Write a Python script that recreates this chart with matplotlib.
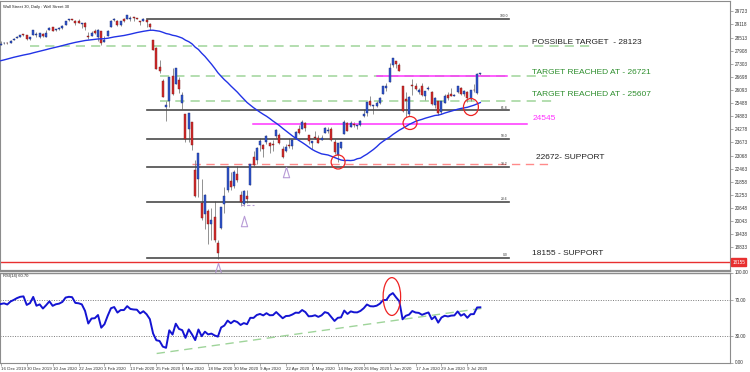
import numpy as np
import matplotlib
matplotlib.use("Agg")
import matplotlib.pyplot as plt
from matplotlib.patches import Ellipse
from matplotlib.path import Path
from matplotlib.transforms import blended_transform_factory

plt.rcParams['font.family'] = ['Liberation Sans', 'DejaVu Sans']

# ---------------- data ----------------
title = "Wall Street 30, Daily : Wall Street 30"
rsi_title = "RSI(14) 60.70"
date_labels = ["16 Dec 2019", "30 Dec 2019", "10 Jan 2020", "22 Jan 2020", "3 Feb 2020",
               "13 Feb 2020", "25 Feb 2020", "6 Mar 2020", "18 Mar 2020", "30 Mar 2020",
               "9 Apr 2020", "22 Apr 2020", "4 May 2020", "14 May 2020", "26 May 2020",
               "5 Jun 2020", "17 Jun 2020", "29 Jun 2020", "9 Jul 2020"]
date_label_step = 8

price_ticks = [18833, 19438, 20043, 20648, 21253, 21858, 22463, 23068, 23673, 24278,
               24883, 25488, 26093, 26698, 27303, 27908, 28513, 29118, 29723]
rsi_ticks = [0, 30, 70, 100]

# closes before the first visible bar (used for the 50-bar average and RSI warm-up)
warmup_close = [26478, 26164, 26346, 26497, 26817, 26787, 27024, 26999, 27026, 26770,
                26828, 26788, 26834, 26806, 26958, 27091, 27071, 27186, 27046,
                27347, 27462, 27492, 27493, 27675, 27681, 27691, 27691, 27784, 27782,
                28005, 28036, 27934, 27821, 27766, 27876, 28066, 28122, 28164, 28051,
                27784, 27503, 27650, 27678, 28015, 27909, 27882, 27911, 28133, 28135]

opens = [28191, 28240, 28270, 28250, 28400, 28490, 28540, 28650, 28640, 28440,
         28640, 28630, 28550, 28690, 28560, 28850, 29000, 28850, 28900, 28940,
         29100, 29320, 29350, 29300, 29260, 29140, 29180, 28600, 28600, 28800,
         28550, 28810, 28320, 28600, 29000, 29320, 29300, 29080, 29370, 29360,
         29380, 29440, 29400, 29280, 29300, 29340, 29150, 28400, 28050, 27150,
         26500, 25300, 25600, 26760, 26380, 26550, 25500, 24990, 24300, 24600,
         22400, 21970, 20900, 20350, 20500, 19900, 20250, 19030, 19730, 20850,
         21470, 21900, 21680, 22200, 21230, 20820, 21200, 21700, 23000, 22840,
         23560, 23560, 23700, 23630, 23600, 23950, 24000, 23360, 23300, 23520,
         23530, 23900, 24300, 24300, 24550, 24000, 23640, 23900, 23900, 23800,
         24100, 24200, 24300, 23700, 23100, 23400, 24050, 24550, 24400, 24540,
         24450, 24500, 24870, 25050, 25600, 25350, 25350, 25500, 25900, 26200,
         26450, 27230, 27450, 27250, 26280, 25660, 25000, 26300, 26300, 26000,
         26300, 25800, 26150, 26000, 25400, 25600, 25100, 25500, 25880, 25930,
         25830, 26000, 26200, 25930, 26000, 25700, 26100, 25950, 26850]
highs = [28337, 28290, 28300, 28380, 28490, 28580, 28625, 28700, 28650, 28550,
         28880, 28750, 28710, 28720, 28860, 28990, 29010, 28910, 29010, 29100,
         29300, 29370, 29370, 29320, 29370, 29200, 29230, 28750, 28800, 28900,
         28890, 28830, 28600, 28850, 29320, 29410, 29310, 29280, 29420, 29570,
         29500, 29440, 29420, 29300, 29410, 29370, 29180, 28410, 28100, 27500,
         26600, 25600, 26710, 27100, 27100, 26700, 26000, 24990, 25020, 24600,
         22840, 23190, 22000, 21300, 20600, 20650, 20950, 19150, 20710, 21600,
         22600, 22300, 22380, 22600, 21450, 21470, 21460, 22700, 23300, 23450,
         23860, 23600, 24000, 23690, 23800, 24270, 24100, 23500, 23600, 23880,
         23790, 24200, 24500, 24700, 24600, 24000, 23760, 24200, 24000, 24000,
         24400, 24400, 24400, 23850, 23630, 23700, 24700, 24600, 24650, 24600,
         24500, 24700, 25200, 25550, 25800, 25400, 25600, 25750, 26300, 26400,
         27340, 27580, 27450, 27350, 26280, 26000, 25800, 26610, 26400, 26190,
         26400, 26050, 26300, 26050, 25760, 25600, 25600, 25900, 26000, 26200,
         25900, 26300, 26250, 26100, 26030, 26100, 26380, 26900, 26900]
lows = [28191, 28220, 28220, 28240, 28400, 28480, 28530, 28590, 28420, 28400,
        28620, 28530, 28480, 28560, 28550, 28840, 28800, 28820, 28880, 28920,
        29100, 29280, 29320, 29100, 29180, 28950, 28860, 28440, 28580, 28700,
        28360, 28170, 28300, 28580, 29000, 29270, 29050, 29050, 29220, 29360,
        29300, 29290, 29370, 29090, 29300, 29000, 28860, 27920, 27050, 26900,
        25750, 24681, 25300, 25850, 26380, 25950, 25220, 23700, 23690, 23330,
        21150, 21150, 20100, 19700, 19000, 19150, 19100, 18300, 19700, 20400,
        21400, 21500, 21590, 21870, 20740, 20740, 20860, 21700, 22600, 22700,
        23280, 23000, 23600, 23190, 23300, 23900, 23600, 22940, 23250, 23400,
        23380, 23900, 24060, 24300, 24200, 23580, 23360, 23850, 23660, 23770,
        24100, 24100, 23760, 23150, 22790, 23350, 24050, 24200, 24400, 24370,
        24300, 24450, 24850, 24900, 25350, 25000, 25300, 25450, 25900, 26050,
        26450, 27150, 27130, 26950, 25080, 24840, 24870, 25840, 26100, 25930,
        25800, 25650, 26100, 25400, 25250, 24960, 25000, 25500, 25650, 25800,
        25800, 25960, 25880, 25800, 25550, 25600, 26000, 25900, 26800]
closes = [28235, 28267, 28239, 28377, 28455, 28551, 28621, 28645, 28462, 28538,
          28868, 28634, 28703, 28583, 28745, 28957, 28823, 28907, 28940, 29030,
          29297, 29348, 29340, 29196, 29186, 29160, 28990, 28535, 28723, 28734,
          28859, 28256, 28399, 28808, 29291, 29380, 29103, 29276, 29276, 29551,
          29423, 29398, 29390, 29232, 29348, 29219, 28992, 27961, 27081, 26957,
          25766, 25409, 26703, 25917, 27091, 26121, 25865, 23851, 25018, 23553,
          21200, 23186, 20189, 21237, 19899, 20087, 19174, 18592, 20705, 21200,
          22552, 21637, 22328, 21917, 20944, 21413, 21053, 22680, 22654, 23434,
          23720, 23390, 23950, 23505, 23538, 24242, 23650, 23019, 23475, 23516,
          23775, 24134, 24102, 24634, 24346, 23724, 23750, 23883, 23665, 23876,
          24331, 24222, 23765, 23248, 23625, 23685, 24597, 24207, 24576, 24474,
          24465, 24650, 24995, 25548, 25400, 25383, 25475, 25742, 26270, 26282,
          27111, 27572, 27272, 26990, 25128, 25606, 25763, 26290, 26120, 26080,
          25871, 26025, 26156, 25446, 25745, 25016, 25596, 25813, 25734, 25827,
          25850, 26287, 25890, 26067, 25706, 26075, 26086, 26850, 26870]

ma_period = 50
rsi_period = 14

fib_high = 29369
fib_low = 18326
fib_levels = [100.0, 61.8, 50.0, 38.2, 23.6, 0.0]

possible_target = 28123
target_1 = 26721
target_2 = 25607
level_mag = 24545
support_1 = 22672
support_2 = 18155

# ---------------- derived indicators ----------------
all_close = np.array(warmup_close + closes, dtype=float)
n_w = len(warmup_close)
sma = np.convolve(all_close, np.ones(ma_period) / ma_period, mode='valid')
ma = sma[n_w - (ma_period - 1):]

d = np.diff(all_close)
gain = np.clip(d, 0, None)
loss = np.clip(-d, 0, None)
rsi = np.full(len(all_close), np.nan)
ag = gain[:rsi_period].mean()
al = loss[:rsi_period].mean()
rsi[rsi_period] = 100 - 100 / (1 + ag / al)
for k in range(rsi_period + 1, len(all_close)):
    ag = (ag * (rsi_period - 1) + gain[k - 1]) / rsi_period
    al = (al * (rsi_period - 1) + loss[k - 1]) / rsi_period
    rsi[k] = 100 - 100 / (1 + ag / al) if al > 0 else 100
rsi_main = rsi[n_w:]

o = np.array(opens, float); h = np.array(highs, float)
l = np.array(lows, float); c = np.array(closes, float)
x = np.arange(len(closes))

# ---------------- figure ----------------
W, H = 750, 372
fig = plt.figure(figsize=(W / 100, H / 100), dpi=100)
fig.patch.set_facecolor('white')

ax = fig.add_axes([0.0, 1 - 271 / H, 730 / W, 270 / H])
axr = fig.add_axes([0.0, 1 - 362.5 / H, 730 / W, 90 / H])

XMIN, XMAX = -0.25, 225.06
ax.set_xlim(XMIN, XMAX)
axr.set_xlim(XMIN, XMAX)
ax.set_ylim(18155 - 9 * 46.15, 18155 + 261 * 46.15)
axr.set_ylim(0, 100)

GRAY = '#8c8c8c'
for a in (ax, axr):
    for s in a.spines.values():
        s.set_color(GRAY)
        s.set_linewidth(0.8)
ax.spines['bottom'].set_linewidth(1.6)
axr.spines['top'].set_linewidth(1.0)

# candles
up = c >= o
ax.vlines(x, l, h, color='#808080', lw=0.6, zorder=2)
body_h = np.maximum(np.abs(c - o), 25)
body_b = np.minimum(o, c)
ax.bar(x[up], body_h[up], bottom=body_b[up], width=0.62, color='#2f55cc',
       edgecolor='#1b2c7a', linewidth=0.3, zorder=3)
ax.bar(x[~up], body_h[~up], bottom=body_b[~up], width=0.62, color='#d42a2a',
       edgecolor='#7a1b1b', linewidth=0.3, zorder=3)

# moving average
ax.plot(x, ma, color='#2233e6', lw=1.0, zorder=4)

# fibonacci lines
fib_x0, fib_x1 = 45.1, 156.8
for lv in fib_levels:
    p = fib_low + (fib_high - fib_low) * lv / 100.0
    ax.plot([fib_x0, fib_x1], [p, p], color='#4a4a4a', lw=1.2, zorder=2)
    ax.text(fib_x1 - 0.3, p + 40, f"{lv:.1f}", fontsize=2.4, ha='right', va='bottom',
            color='#333333')

# horizontal levels
GREEN_D = '#9fd49a'
ax.plot([9.0, 182.8], [possible_target] * 2, color=GREEN_D, lw=1.1, ls=(0, (6, 4)), zorder=1)
ax.plot([49.1, 168.6], [target_1] * 2, color=GREEN_D, lw=1.1, ls=(0, (6, 4)), zorder=1)
ax.plot([49.1, 170.1], [target_2] * 2, color=GREEN_D, lw=1.1, ls=(0, (6, 4)), zorder=1)
ax.plot([116.1, 156.2], [target_1] * 2, color='#ff33ff', lw=1.1, zorder=2)
ax.plot([77.8, 162.4], [level_mag] * 2, color='#ff33ff', lw=1.1, zorder=2)
ax.plot([59.0, 168.9], [support_1] * 2, color='#ff8a8a', lw=1.0, ls=(0, (6, 4)), zorder=1)
ax.axhline(support_2, color='#e83030', lw=1.0, zorder=1)
ax.plot([74.0, 78.0], [20786] * 2, color='#b79ad6', lw=0.8, ls=(0, (3, 2)), zorder=2)

# annotation texts
TF = 6.0
ax.text(164.0, 28294, "POSSIBLE TARGET  - 28123", fontsize=TF, color='#222222', va='center', ha='left')
ax.text(164.0, 26900, "TARGET REACHED AT - 26721", fontsize=TF, color='#2f8f2f', va='center', ha='left')
ax.text(164.0, 25895, "TARGET REACHED AT - 25607", fontsize=TF, color='#2f8f2f', va='center', ha='left')
ax.text(164.0, 24800, "24545", fontsize=TF, color='#ff33ff', va='center', ha='left')
ax.text(165.1, 22987, "22672- SUPPORT", fontsize=TF, color='#222222', va='center', ha='left')
ax.text(163.9, 18556, "18155 - SUPPORT", fontsize=TF, color='#222222', va='center', ha='left')

# red ellipses
for (ex, ey, ew, eh) in [(104.1, 22770, 4.3, 646), (126.3, 24570, 4.3, 600), (145.1, 25308, 4.6, 785)]:
    ax.add_patch(Ellipse((ex, ey), ew, eh, fill=False, edgecolor='#ee2222', lw=0.9, zorder=5))

# triangles
tri = Path([(-0.3, -0.5), (0.3, -0.5), (0.0, 0.5), (-0.3, -0.5)],
           [Path.MOVETO, Path.LINETO, Path.LINETO, Path.CLOSEPOLY])
ax.plot([88.0, 75.1, 67.0], [22322, 20061, 17864], ls='none', marker=tri, markersize=7.5,
        markerfacecolor='none', markeredgecolor='#b79ad6', markeredgewidth=0.8, clip_on=False, zorder=5)

# title
ax.text(0.004, 0.985, title, transform=ax.transAxes, fontsize=3.0, va='top', ha='left', color='#222222')

# price axis
ax.yaxis.tick_right()
ax.set_yticks(price_ticks)
ax.set_yticklabels([str(t) for t in price_ticks])
ax.tick_params(axis='y', labelsize=3.3, length=2, width=0.5, color=GRAY, pad=1.5, labelcolor='#333333')
ax.tick_params(axis='x', length=0, labelbottom=False)
tr = blended_transform_factory(ax.transAxes, ax.transData)
ax.text(1.003, support_2, "18155", transform=tr, fontsize=3.3, color='white', va='center', ha='left',
        bbox=dict(boxstyle='square,pad=0.25', fc='#e83030', ec='#e83030'))

# RSI panel
axr.plot(x, rsi_main, color='#1414d2', lw=1.4, zorder=3)
for lv in (70, 30):
    axr.axhline(lv, color='#7a7a7a', lw=0.7, ls=(0, (1, 1.5)), zorder=1)
axr.plot([48.1, 148.8], [10.0, 60.3], color='#9fd49a', lw=1.0, ls=(0, (6, 4)), zorder=2)
axr.add_patch(Ellipse((120.7, 73.3), 5.4, 42, fill=False, edgecolor='#ee2222', lw=0.9, zorder=5))
axr.text(0.004, 0.985, rsi_title, transform=axr.transAxes, fontsize=3.0, va='top', ha='left', color='#222222')
axr.yaxis.tick_right()
axr.set_yticks(rsi_ticks)
axr.set_yticklabels([f"{t:.2f}" for t in rsi_ticks])
axr.tick_params(axis='y', labelsize=3.3, length=2, width=0.5, color=GRAY, pad=1.5, labelcolor='#333333')

axr.set_xticks(np.arange(len(date_labels)) * date_label_step)
axr.set_xticklabels(date_labels)
for t in axr.get_xticklabels():
    t.set_ha('left')
axr.tick_params(axis='x', labelsize=3.2, length=2, width=0.5, color=GRAY, pad=1.0, labelcolor='#333333')

fig.savefig('out.png', dpi=100, facecolor='white')
